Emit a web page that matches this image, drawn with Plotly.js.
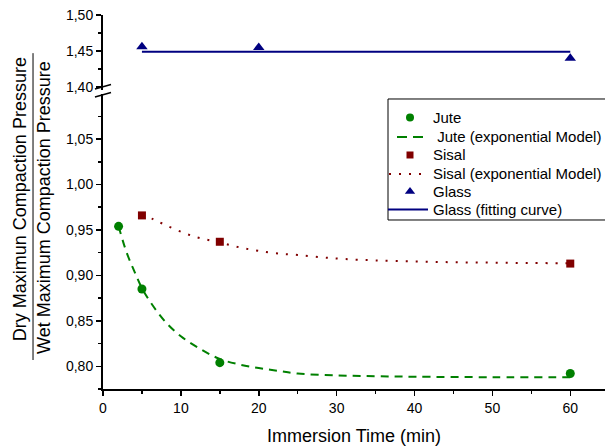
<!DOCTYPE html>
<html>
<head>
<meta charset="utf-8">
<script src="https://cdn.plot.ly/plotly-3.0.1.min.js"></script>
<style>html,body{margin:0;padding:0;background:#fff;}#chart{width:605px;height:447px;}</style>
</head>
<body>
<div id="chart"></div>
<script>
// Measured points
var juteX = [2, 5, 15, 60];
var juteY = [0.954, 0.885, 0.804, 0.792];
var sisalX = [5, 15, 60];
var sisalY = [0.966, 0.937, 0.913];
var glassX = [5, 20, 60];
var glassY = [1.456, 1.455, 1.440];

// Model curves
var juteModelX = [2, 3, 4, 5, 6.3, 8, 10, 12.5, 15, 17.5, 20, 22.5, 25, 30, 35, 40, 50, 60];
var juteModelY = [0.954, 0.926, 0.905, 0.886, 0.868, 0.849, 0.833, 0.819, 0.808, 0.802, 0.798, 0.795, 0.792, 0.790, 0.789, 0.7885, 0.788, 0.788];
var sisalModelX = [5, 6.5, 8, 10, 12, 14, 16, 18, 20, 22.5, 25, 28, 31, 35, 40, 45, 50, 55, 60];
var sisalModelY = [0.966, 0.9616, 0.9555, 0.948, 0.942, 0.938, 0.934, 0.930, 0.927, 0.924, 0.9225, 0.920, 0.918, 0.9165, 0.9153, 0.9145, 0.914, 0.9136, 0.9134];
var glassFitX = [5, 60];
var glassFitY = [1.449, 1.449];

// Tick labels
var lowTickVals = [0.80, 0.85, 0.90, 0.95, 1.00, 1.05];
var lowTickText = ['0,80', '0,85', '0,90', '0,95', '1,00', '1,05'];
var highTickVals = [1.40, 1.45, 1.50];
var highTickText = ['1,40', '1,45', '1,50'];

// Legend entries
var legendNames = ['Jute', '\u00a0Jute (exponential Model)', 'Sisal', 'Sisal (exponential Model)', 'Glass', 'Glass (fitting curve)'];

var GREEN = '#008000', RED = '#800000', NAVY = '#000080';
var FONT = 'Arial, "Liberation Sans", sans-serif';

var traces = [
  {x: juteX, y: juteY, mode: 'markers', type: 'scatter',
   marker: {symbol: 'circle', size: 9, color: GREEN}},
  {x: juteModelX, y: juteModelY, mode: 'lines', type: 'scatter',
   line: {color: GREEN, width: 2, dash: '8px,6px', shape: 'spline'}},
  {x: sisalX, y: sisalY, mode: 'markers', type: 'scatter',
   marker: {symbol: 'square', size: 8, color: RED}},
  {x: sisalModelX, y: sisalModelY, mode: 'lines', type: 'scatter',
   line: {color: RED, width: 2, dash: '2px,8px', shape: 'spline'}},
  {x: glassX, y: glassY, mode: 'markers', type: 'scatter', yaxis: 'y2',
   marker: {symbol: 'triangle-up', size: 10, color: NAVY}},
  {x: glassFitX, y: glassFitY, mode: 'lines', type: 'scatter', yaxis: 'y2',
   line: {color: NAVY, width: 2}}
];

// Legend keys, drawn on a pixel-scaled overlay axis pair (x3/y3)
var legX0 = 388, legTop = 99, legBottom = 220;
var rowY = [117.5, 137, 155, 174, 191.5, 209.5];
var keyMarkX = 410;
traces.push({x: [keyMarkX], y: [rowY[0]], xaxis: 'x3', yaxis: 'y3', mode: 'markers', type: 'scatter',
  marker: {symbol: 'circle', size: 8, color: GREEN}, hoverinfo: 'skip'});
traces.push({x: [397, 425], y: [rowY[1], rowY[1]], xaxis: 'x3', yaxis: 'y3', mode: 'lines', type: 'scatter',
  line: {color: GREEN, width: 2, dash: '10px,6px'}, hoverinfo: 'skip'});
traces.push({x: [keyMarkX], y: [rowY[2]], xaxis: 'x3', yaxis: 'y3', mode: 'markers', type: 'scatter',
  marker: {symbol: 'square', size: 7, color: RED}, hoverinfo: 'skip'});
traces.push({x: [389, 427], y: [rowY[3], rowY[3]], xaxis: 'x3', yaxis: 'y3', mode: 'lines', type: 'scatter',
  line: {color: RED, width: 2, dash: '2px,8px'}, hoverinfo: 'skip'});
traces.push({x: [keyMarkX], y: [rowY[4]], xaxis: 'x3', yaxis: 'y3', mode: 'markers', type: 'scatter',
  marker: {symbol: 'triangle-up', size: 9, color: NAVY}, hoverinfo: 'skip'});
traces.push({x: [388, 428], y: [rowY[5], rowY[5]], xaxis: 'x3', yaxis: 'y3', mode: 'lines', type: 'scatter',
  line: {color: NAVY, width: 2}, hoverinfo: 'skip'});

var annotations = [
  {text: 'Dry Maximun Compaction Pressure', xref: 'paper', yref: 'paper',
   x: -0.165, y: 0.508, textangle: -90, showarrow: false, xanchor: 'center', yanchor: 'middle',
   font: {family: FONT, size: 18, color: '#000'}},
  {text: 'Wet Maximum Compaction Pressure', xref: 'paper', yref: 'paper',
   x: -0.1175, y: 0.484, textangle: -90, showarrow: false, xanchor: 'center', yanchor: 'middle',
   font: {family: FONT, size: 18, color: '#000'}}
];
for (var i = 0; i < legendNames.length; i++) {
  annotations.push({text: legendNames[i], xref: 'x3', yref: 'y3', x: 431, y: rowY[i],
    xanchor: 'left', yanchor: 'middle', showarrow: false,
    font: {family: FONT, size: 15, color: '#000'}});
}

var layout = {
  width: 605, height: 447,
  margin: {l: 103, r: 0, t: 15, b: 58},
  paper_bgcolor: '#fff', plot_bgcolor: '#fff',
  font: {family: FONT, size: 14, color: '#000'},
  showlegend: false,
  xaxis: {range: [0, 64.46], anchor: 'y', showgrid: false, zeroline: false,
          showline: true, linecolor: '#000', linewidth: 2,
          ticks: 'outside', ticklen: 5, tickwidth: 1.5, tickcolor: '#000', dtick: 10, tick0: 0,
          minor: {dtick: 5, tick0: 0, ticks: 'outside', ticklen: 3, tickwidth: 1.5, tickcolor: '#000'},
          tickfont: {size: 14},
          title: {text: 'Immersion Time (min)', font: {size: 18}, standoff: 15}},
  yaxis: {domain: [0, 0.7888], range: [0.775, 1.0996], anchor: 'x', showgrid: false, zeroline: false,
          showline: true, linecolor: '#000', linewidth: 2,
          ticks: 'outside', ticklen: 5, tickwidth: 1.5, tickcolor: '#000',
          tickmode: 'array', tickvals: lowTickVals, ticktext: lowTickText,
          minor: {dtick: 0.025, tick0: 0.775, ticks: 'outside', ticklen: 3, tickwidth: 1.5, tickcolor: '#000'},
          tickfont: {size: 14}},
  yaxis2: {domain: [0.8008, 1], range: [1.3965, 1.50], anchor: 'x', showgrid: false, zeroline: false,
          showline: true, linecolor: '#000', linewidth: 2,
          ticks: 'outside', ticklen: 5, tickwidth: 1.5, tickcolor: '#000',
          tickmode: 'array', tickvals: highTickVals, ticktext: highTickText,
          minor: {dtick: 0.025, tick0: 1.40, ticks: 'outside', ticklen: 3, tickwidth: 1.5, tickcolor: '#000'},
          tickfont: {size: 14}},
  xaxis3: {range: [103, 605], anchor: 'y3', overlaying: 'x', visible: false, fixedrange: true},
  yaxis3: {range: [389, 94], anchor: 'x3', overlaying: 'y', visible: false, fixedrange: true},
  annotations: annotations,
  shapes: [
    // legend box
    {type: 'rect', xref: 'x3', yref: 'y3', x0: legX0, x1: 610, y0: legTop, y1: legBottom,
     fillcolor: '#fff', line: {color: '#000', width: 1}, layer: 'below'},
    // fraction bar of the y title
    {type: 'line', xref: 'paper', yref: 'paper', x0: -0.1394, x1: -0.1394, y0: 0.0775, y1: 0.898,
     line: {color: '#000', width: 1}},
    // axis break marks
    {type: 'line', xref: 'paper', yref: 'paper', x0: -0.016, x1: 0.016, y0: 0.802, y1: 0.814,
     line: {color: '#000', width: 1.5}},
    {type: 'line', xref: 'paper', yref: 'paper', x0: -0.016, x1: 0.016, y0: 0.781, y1: 0.793,
     line: {color: '#000', width: 1.5}}
  ]
};

Plotly.newPlot('chart', traces, layout, {staticPlot: true, displayModeBar: false});
</script>
</body>
</html>
